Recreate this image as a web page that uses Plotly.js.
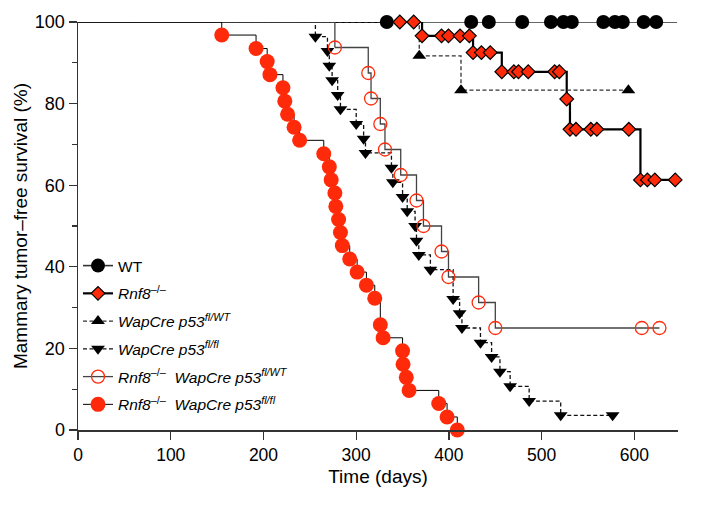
<!DOCTYPE html>
<html><head><meta charset="utf-8">
<script src="https://cdn.plot.ly/plotly-3.0.1.min.js"></script>
<style>html,body{margin:0;padding:0;background:#fff}#chart{width:704px;height:505px}</style>
</head><body><div id="chart"></div>
<script>
// ---- data (days, % tumor-free) ----
const wtTimes = [333, 424, 443, 479, 510, 523.5, 532.5, 566.5, 579, 587.5, 610, 623.5];
const wtSurv  = [100, 100, 100, 100, 100, 100, 100, 100, 100, 100, 100, 100];
const wtFollowUpEnd = 646;

const rnf8Times = [347, 362, 371, 392, 399.5, 412, 422, 426, 435, 444.5, 457, 470, 475, 485.5, 514, 519, 527, 530.5, 537, 553, 559.5, 594, 606.5, 614, 622, 644];
const rnf8Surv  = [100, 100, 96.6, 96.6, 96.6, 96.6, 96.6, 92.5, 92.5, 92.5, 87.8, 87.8, 87.8, 87.8, 87.8, 87.8, 81.1, 73.7, 73.7, 73.7, 73.7, 73.7, 61.3, 61.3, 61.3, 61.3];

const wapWtTimes = [368, 413, 593.5];
const wapWtSurv  = [91.7, 83.3, 83.3];

const wapFlTimes = [256, 269, 271, 274, 280, 283, 300, 308, 310, 338, 339.5, 350, 355, 363.5, 365, 367.5, 380, 404.5, 411.5, 414, 434, 446, 455, 466, 486.5, 520.5, 576.5];
const wapFlSurv  = [96.4, 92.9, 89.3, 85.7, 82.1, 78.6, 75.0, 71.4, 67.9, 64.3, 60.7, 57.1, 53.6, 50.0, 46.4, 42.9, 39.3, 32.1, 28.6, 25.0, 21.4, 17.9, 14.3, 10.7, 7.1, 3.6, 3.6];

const rnfWapWtTimes = [277, 313, 316, 326, 331, 348, 365, 372.5, 392, 399.5, 432, 450, 608, 627];
const rnfWapWtSurv  = [93.75, 87.5, 81.25, 75, 68.75, 62.5, 56.25, 50, 43.75, 37.5, 31.25, 25, 25, 25];

const rnfWapFlTimes = [155, 192, 204, 207, 221, 223, 226, 233, 239, 265, 271, 273, 277, 278, 281, 283, 285, 293, 301, 311, 320, 326, 329, 350, 350.5, 354, 357, 389, 398, 409];
const rnfWapFlSurv  = [96.8, 93.5, 90.3, 87.1, 83.9, 80.6, 77.4, 74.2, 71.0, 67.7, 64.5, 61.3, 58.1, 54.8, 51.6, 48.4, 45.2, 41.9, 38.7, 35.5, 32.3, 25.8, 22.6, 19.4, 16.1, 12.9, 9.7, 6.5, 3.2, 0];

const seriesNames = [
  'WT',
  '<i>Rnf8</i><sup>–/–</sup>',
  '<i>WapCre p53<sup>fl/WT</sup></i>',
  '<i>WapCre p53<sup>fl/fl</sup></i>',
  '<i>Rnf8</i><sup>–/–</sup>  <i>WapCre p53<sup>fl/WT</sup></i>',
  '<i>Rnf8</i><sup>–/–</sup>  <i>WapCre p53<sup>fl/fl</sup></i>'
];
const xTicks = [0, 100, 200, 300, 400, 500, 600];
const yTicks = [0, 20, 40, 60, 80, 100];

// ---- styles ----
const RED = 'rgb(255,42,10)';
const styles = [
  {line: {color: '#333', width: 1.6}, marker: {symbol: 'circle', size: 14, color: '#000'}},
  {line: {color: '#000', width: 2.2}, marker: {symbol: 'diamond', size: 10.5, color: RED, line: {color: '#000', width: 1.2}}},
  {line: {color: '#333', width: 1.3, dash: '4px,2.5px'}, marker: {symbol: 'triangle-up', size: 12, color: '#000'}},
  {line: {color: '#111', width: 1.3, dash: '4px,2.5px'}, marker: {symbol: 'triangle-down', size: 12, color: '#000'}},
  {line: {color: '#444', width: 1.3}, marker: {symbol: 'circle-open', size: 13, color: RED, line: {color: RED, width: 1.3}}},
  {line: {color: '#000', width: 1}, marker: {symbol: 'circle', size: 15, color: RED}}
];

const data = [[wtTimes, wtSurv], [rnf8Times, rnf8Surv], [wapWtTimes, wapWtSurv], [wapFlTimes, wapFlSurv], [rnfWapWtTimes, rnfWapWtSurv], [rnfWapFlTimes, rnfWapFlSurv]];

const traces = [];
data.forEach(([t, s], i) => {
  const st = styles[i];
  traces.push({x: [0, t[0]], y: [100, s[0]], mode: 'lines', line: Object.assign({shape: 'hv'}, st.line),
    showlegend: false, hoverinfo: 'skip', cliponaxis: false, legendgroup: 'g' + i});
  if (i === 0) {
    traces.push({x: [t[t.length - 1], wtFollowUpEnd], y: [s[s.length - 1], s[s.length - 1]], mode: 'lines',
      line: Object.assign({shape: 'hv'}, st.line), showlegend: false, hoverinfo: 'skip', cliponaxis: false, legendgroup: 'g' + i});
  }
});
data.forEach(([t, s], i) => {
  const st = styles[i];
  traces.push({x: t, y: s, name: seriesNames[i], mode: 'lines+markers', legendgroup: 'g' + i,
    line: Object.assign({shape: 'hv'}, st.line), marker: st.marker, cliponaxis: false});
});

const FONT = 'Arial, "Liberation Sans", sans-serif';
const layout = {
  width: 704, height: 505,
  margin: {l: 78, r: 26, t: 22, b: 75},
  paper_bgcolor: '#fff', plot_bgcolor: '#fff',
  font: {family: FONT, size: 16, color: '#000'},
  showlegend: true,
  legend: {x: 0, y: 0.022, xanchor: 'left', yanchor: 'bottom', bgcolor: 'rgba(0,0,0,0)', font: {size: 15.5, family: FONT},
    tracegroupgap: 4.6, traceorder: 'grouped'},
  xaxis: {range: [0, 647], tickvals: xTicks, ticks: 'outside', ticklen: 8, tickwidth: 1.3, tickcolor: '#333',
    showline: true, linecolor: '#333', linewidth: 1.5, showgrid: false, zeroline: false,
    tickfont: {size: 17.5}, title: {text: 'Time (days)', font: {size: 19}, standoff: 6}},
  yaxis: {range: [0, 100], tickvals: yTicks, ticks: 'outside', ticklen: 8, tickwidth: 1.3, tickcolor: '#333',
    minor: {dtick: 10, ticks: 'outside', ticklen: 5, tickwidth: 1.3, tickcolor: '#333'},
    showline: true, linecolor: '#333', linewidth: 1.5, showgrid: false, zeroline: false,
    tickfont: {size: 18}, title: {text: 'Mammary tumor–free survival (%)', font: {size: 19}, standoff: 2}}
};
Plotly.newPlot('chart', traces, layout, {displayModeBar: false, staticPlot: true});
</script></body></html>
